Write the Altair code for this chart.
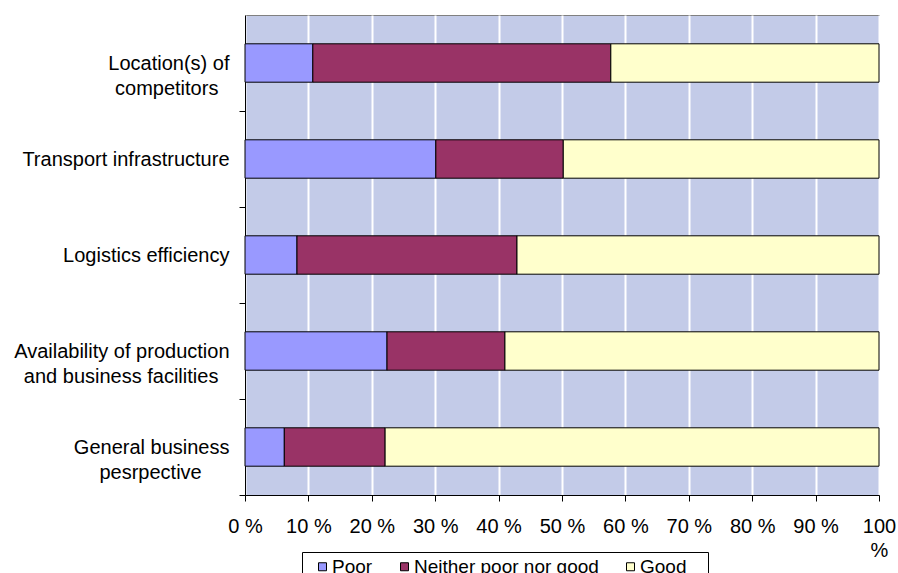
import altair as alt
import pandas as pd

categories = [
    "Location(s) of competitors",
    "Transport infrastructure",
    "Logistics efficiency",
    "Availability of production and business facilities",
    "General business pesrpective",
]
# how each category label wraps on the axis
label_lines = [
    ["Location(s) of", "competitors"],
    ["Transport infrastructure"],
    ["Logistics efficiency"],
    ["Availability of production", "and business facilities"],
    ["General business", "pesrpective"],
]
series = ["Poor", "Neither poor nor good", "Good"]
poor = [10.7, 30.1, 8.2, 22.4, 6.2]
neither = [47.0, 20.1, 34.7, 18.6, 15.9]
good = [42.3, 49.8, 57.1, 59.0, 77.9]
x_ticks = [0, 10, 20, 30, 40, 50, 60, 70, 80, 90, 100]
colors = ["#9999FF", "#993366", "#FFFFCC"]

rows = []
for i, c in enumerate(categories):
    for j, (s, vals) in enumerate(zip(series, [poor, neither, good])):
        rows.append({"category": c, "series": s, "value": vals[i], "order": j})
df = pd.DataFrame(rows)

FONT = "Liberation Sans"
NBSP = "\u00a0"
ZW = "\u200b"  # stops the trailing no-break spaces from being trimmed

# second lines are centred under the first line: pad with trailing no-break spaces
trail = {"Location(s) of competitors": 2,
         "Availability of production and business facilities": 2,
         "General business pesrpective": 5}


def js_str(s):
    return "'" + s.replace("'", "\\'") + "'"


expr = "datum.label"
for cat, lines in zip(categories, label_lines):
    shown = list(lines)
    if len(shown) > 1 and trail.get(cat, 0):
        shown[-1] = shown[-1] + NBSP * trail[cat] + ZW
    arr = "[" + ", ".join(js_str(t) for t in shown) + "]"
    expr = f"datum.label == {js_str(cat)} ? {arr} : ({expr})"

STEP = 96  # band step of the category scale (480 / 5)

chart = (
    alt.Chart(df)
    .mark_bar(stroke="black", strokeWidth=1)
    .encode(
        x=alt.X(
            "value:Q",
            stack="zero",
            scale=alt.Scale(domain=[0, 100], nice=False),
            axis=alt.Axis(
                values=x_ticks,
                title=None,
                labelExpr="datum.value == 100 ? ['100', '%'] : datum.value + ' %'",
                labelFont=FONT,
                labelFontSize=20,
                labelColor="black",
                labelPadding=15,
                labelLineHeight=24,
                labelFlush=False,
                labelOverlap=False,
                tickSize=6,
                tickColor="black",
                domainColor="black",
                grid=True,
                gridColor="white",
                gridWidth=2,
            ),
        ),
        y=alt.Y(
            "category:N",
            sort=categories,
            scale=alt.Scale(paddingInner=0.6, paddingOuter=0.3),
            axis=alt.Axis(
                title=None,
                labelExpr=expr,
                labelFont=FONT,
                labelFontSize=20,
                labelColor="black",
                labelAlign="right",
                labelBaseline="middle",
                labelLineHeight=25,
                labelLimit=500,
                labelPadding=10,
                tickSize=6,
                tickColor="black",
                tickOffset=STEP / 2,
                labelOffset=-STEP / 2,
                domainColor="black",
                grid=False,
            ),
        ),
        fill=alt.Fill(
            "series:N",
            sort=series,
            scale=alt.Scale(domain=series, range=colors),
            legend=alt.Legend(
                title=NBSP + ZW,
                titleOrient="left",
                titleFontSize=1,
                titlePadding=6,
                orient="none",
                direction="horizontal",
                legendX=57,
                legendY=537,
                labelFont=FONT,
                labelFontSize=19,
                labelColor="black",
                labelLimit=400,
                labelOffset=0,
                labelExpr="datum.label == 'Good' ? 'Good" + NBSP * 3 + ZW + "' : datum.label",
                symbolType="square",
                symbolSize=64,
                symbolStrokeColor="black",
                symbolStrokeWidth=1,
                columnPadding=22,
                padding=5,
                strokeColor="black",
                fillColor="white",
            ),
        ),
        order=alt.Order("order:Q"),
    )
    .properties(
        width=634,
        height=480,
        autosize=alt.AutoSizeParams(type="none"),
        padding={"left": 245, "top": 15, "right": 19, "bottom": 78},
    )
    .configure(
        background="white",
        view=alt.ViewConfig(fill="#C3CBE8", stroke="#808080", strokeWidth=1),
    )
)

chart.save("out.html", embed_options={"renderer": "svg", "actions": False})
